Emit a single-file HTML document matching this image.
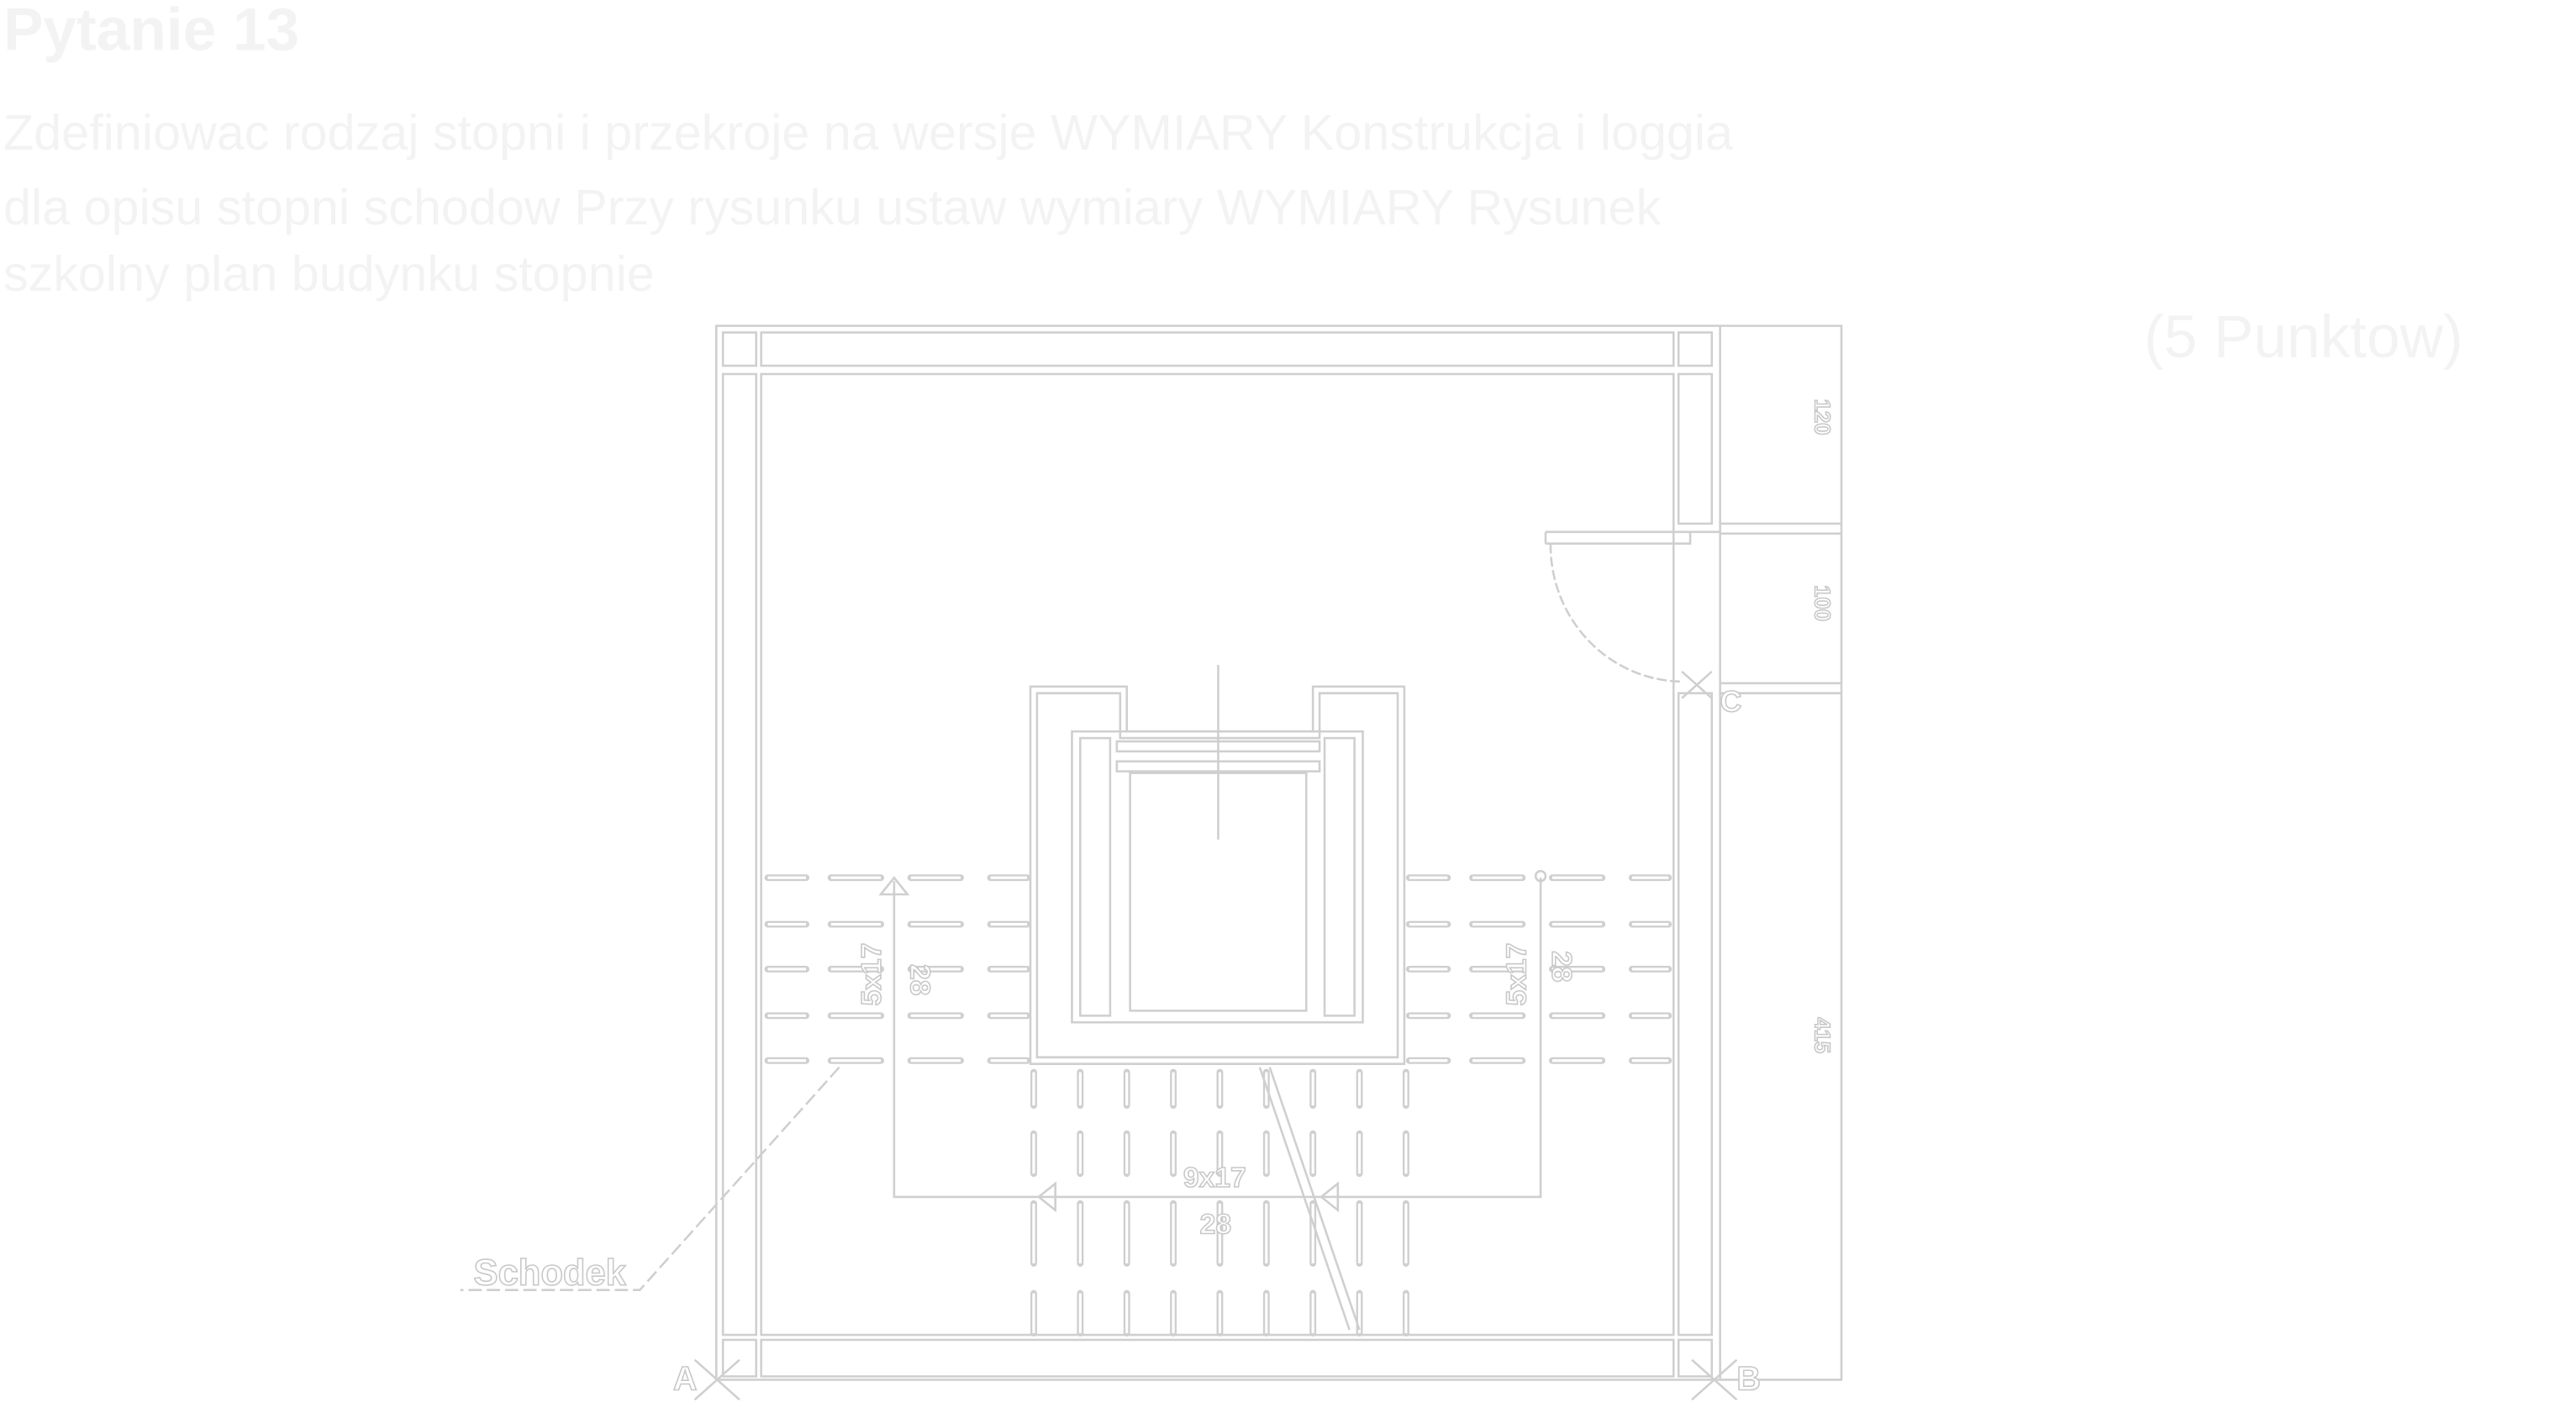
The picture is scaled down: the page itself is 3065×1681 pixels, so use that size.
<!DOCTYPE html>
<html><head><meta charset="utf-8"><style>
html,body{margin:0;padding:0;background:#fff;width:3065px;height:1681px;overflow:hidden}
svg{display:block}
</style></head><body>
<svg width="3065" height="1681" viewBox="0 0 1550 850" preserveAspectRatio="none" xmlns="http://www.w3.org/2000/svg">
<g font-family="Liberation Sans, sans-serif" fill="#f3f3f3">
<text x="2" y="30" font-size="36" font-weight="bold">Pytanie 13</text>
<text x="2" y="90" font-size="30">Zdefiniowac rodzaj stopni i przekroje na wersje WYMIARY Konstrukcja i loggia</text>
<text x="2" y="135" font-size="30">dla opisu stopni schodow Przy rysunku ustaw wymiary WYMIARY Rysunek</text>
<text x="2" y="175" font-size="30">szkolny plan budynku stopnie</text>
<text x="1290" y="215" font-size="36">(5 Punktow)</text>
</g>
<g fill="none" stroke="#cfcfcf" stroke-width="1.3">
<rect x="431" y="196" width="604" height="634"/>
<rect x="458" y="200" width="549" height="20"/>
<rect x="458" y="806" width="549" height="22"/>
<rect x="435" y="200" width="20" height="20"/>
<rect x="1010" y="200" width="20" height="20"/>
<rect x="435" y="806" width="20" height="22"/>
<rect x="1010" y="806" width="20" height="22"/>
<rect x="435" y="225" width="20" height="578"/>
<rect x="458" y="225" width="549" height="578"/>
<rect x="1010" y="225" width="20" height="90"/>
<rect x="1010" y="417" width="20" height="386"/>
<path d="M1035 196 H1108 V830 H1035"/>
<path d="M1035 315 H1108 M1035 321 H1108 M1035 411 H1108 M1035 417 H1108"/>
<path d="M930 320 H1035 M930 327 H1017 V320 M930 320 V327"/>
<path d="M933 327 A80 82 0 0 0 1012 410" stroke-dasharray="6 2"/>
<path d="M1012 404 L1030 420 M1030 404 L1012 420"/>
<path d="M620 640 V413 H678 V440 H790 V413 H845 V640 Z"/>
<path d="M624 636 V417 H674 V444 H794 V417 H841 V636 Z"/>
<rect x="645" y="440" width="175" height="175"/>
<rect x="650" y="444" width="18" height="167"/>
<rect x="797" y="444" width="18" height="167"/>
<rect x="680" y="465" width="106" height="143"/>
<rect x="672" y="446" width="122" height="6"/>
<rect x="672" y="458" width="122" height="6"/>
<path d="M733 400 V505"/>
</g>
<defs>
<g id="h">
<path d="M462 528 H485 M500 528 H530 M548 528 H578 M596 528 H618"/>
<path d="M462 556 H485 M500 556 H530 M548 556 H578 M596 556 H618"/>
<path d="M462 583 H485 M500 583 H530 M548 583 H578 M596 583 H618"/>
<path d="M462 611 H485 M500 611 H530 M548 611 H578 M596 611 H618"/>
<path d="M462 638 H485 M500 638 H530 M548 638 H578 M596 638 H618"/>
</g>
<g id="v"><path d="M622 645 V665 M622 682 V706 M622 724 V760 M622 778 V802"/></g>
<g id="vv">
<use href="#v"/><use href="#v" transform="translate(28 0)"/><use href="#v" transform="translate(56 0)"/><use href="#v" transform="translate(84 0)"/>
<use href="#v" transform="translate(112 0)"/><use href="#v" transform="translate(140 0)"/><use href="#v" transform="translate(168 0)"/>
<use href="#v" transform="translate(196 0)"/><use href="#v" transform="translate(224 0)"/>
</g>
</defs>
<g stroke="#cfcfcf" stroke-width="4" stroke-linecap="round" fill="none">
<use href="#h"/><use href="#h" transform="translate(386 0)"/><use href="#vv"/>
</g>
<g stroke="#fff" stroke-width="1.6" fill="none">
<use href="#h"/><use href="#h" transform="translate(386 0)"/><use href="#vv"/>
</g>
<g fill="none" stroke="#cfcfcf" stroke-width="1.3">
<path d="M538 530 V720 H927 V528"/>
<path d="M530 538 L538 528 L546 538 Z"/>
<path d="M625 720 L635 712 V728 Z M795 720 L805 712 V728 Z"/>
<circle cx="927" cy="527" r="3"/>
<path d="M758 642 L812 800 M764 642 L818 800"/>
<path d="M505 642 L385 776 H277" stroke-dasharray="8 3"/>
<path d="M418 818 L445 842 M445 818 L418 842 M1018 818 L1045 842 M1045 818 L1018 842"/>
</g>
<g font-family="Liberation Sans, sans-serif" font-weight="bold" fill="#fff" stroke="#c8c8c8" stroke-width="0.8" font-size="17">
<text x="285" y="773" font-size="22">Schodek</text>
<text x="712" y="714">9x17</text>
<text x="722" y="742">28</text>
<text transform="translate(530 605) rotate(-90)">5x17</text>
<text transform="translate(548 580) rotate(90)">28</text>
<text transform="translate(918 605) rotate(-90)">5x17</text>
<text transform="translate(934 572) rotate(90)">28</text>
<text transform="translate(1092 240) rotate(90)" font-size="13">120</text>
<text transform="translate(1092 352) rotate(90)" font-size="13">100</text>
<text transform="translate(1092 612) rotate(90)" font-size="13">415</text>
<text x="405" y="836" font-size="20">A</text>
<text x="1045" y="836" font-size="20">B</text>
<text x="1035" y="428" font-size="18">C</text>
</g>
</svg>
</body></html>
